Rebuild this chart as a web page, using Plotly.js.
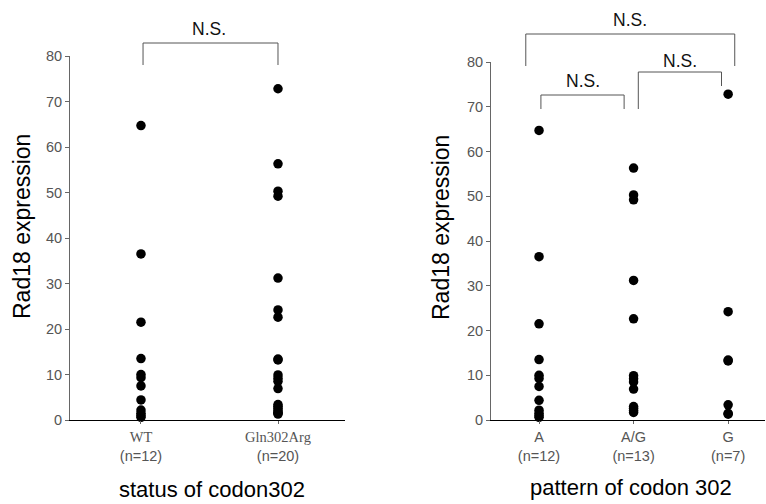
<!DOCTYPE html>
<html>
<head>
<meta charset="utf-8">
<script src="https://cdn.plot.ly/plotly-3.0.1.min.js"></script>
<style>html,body{margin:0;padding:0;background:#fff;}#chart{width:766px;height:504px;}</style>
</head>
<body>
<div id="chart"></div>
<script>
// ---- data ----
var leftCategories = ["WT", "Gln302Arg"];
var leftCounts = ["(n=12)", "(n=20)"];
var wtValues = [64.7, 36.5, 21.5, 13.5, 10.0, 9.3, 7.5, 4.4, 2.2, 1.5, 1.0, 0.6];
var glnValues = [72.8, 56.3, 50.3, 49.2, 31.2, 24.2, 22.6, 13.4, 13.2, 9.9, 9.2, 8.5, 6.9, 3.4, 3.0, 2.6, 2.1, 1.7, 1.5, 1.3];

var rightCategories = ["A", "A/G", "G"];
var rightCounts = ["(n=12)", "(n=13)", "(n=7)"];
var aValues = [64.7, 36.5, 21.5, 13.5, 10.0, 9.3, 7.5, 4.4, 2.2, 1.5, 1.0, 0.6];
var agValues = [56.3, 50.3, 49.2, 31.2, 22.6, 9.9, 9.2, 8.5, 6.9, 3.0, 2.6, 2.1, 1.7];
var gValues = [72.8, 24.2, 13.4, 13.2, 3.4, 1.5, 1.3];

var yTicks = [0, 10, 20, 30, 40, 50, 60, 70, 80];
var sigLabel = "N.S.";

// ---- layout geometry ----
var W = 766, H = 504;
var xDom1 = [70 / W, 345 / W], xRange1 = [-0.518, 1.489];
var xDom2 = [491 / W, 765 / W], xRange2 = [-0.508, 2.39];
var yDom1 = [1 - 420 / H, 1 - 56 / H];
var yDom2 = [1 - 420 / H, 1 - 62 / H];
var yRange = [0, 80];

function px(x, dom, rng) { return dom[0] + (x - rng[0]) / (rng[1] - rng[0]) * (dom[1] - dom[0]); }
function yPaper(pix) { return 1 - pix / H; }

function pts(vals, idx) { return vals.map(function () { return idx; }); }

var marker = { color: "#000", size: 9.5, line: { width: 0 } };
function tr(vals, idx, xa, ya) {
  return { type: "scatter", mode: "markers", x: pts(vals, idx), y: vals, xaxis: xa, yaxis: ya,
           marker: marker, hoverinfo: "y", showlegend: false, cliponaxis: false };
}

var traces = [
  tr(wtValues, 0, "x", "y"), tr(glnValues, 1, "x", "y"),
  tr(aValues, 0, "x2", "y2"), tr(agValues, 1, "x2", "y2"), tr(gValues, 2, "x2", "y2")
];

function tickText(cats, counts, serif) {
  return cats.map(function (c, i) {
    var first = serif ? "<span style=\"font-family:'Liberation Serif',serif\">" + c + "</span>" : c;
    return first + "<br>" + counts[i];
  });
}

var yAxisBase = {
  range: yRange, tickvals: yTicks, showgrid: false, zeroline: false,
  showline: true, linecolor: "#666", linewidth: 1, ticks: "outside", ticklen: 4, tickcolor: "#666",
  tickfont: { family: "Liberation Sans, Arial", size: 14.5, color: "#555" }, fixedrange: true
};
var xAxisBase = {
  showgrid: false, zeroline: false, showline: true, linecolor: "#000", linewidth: 1.3,
  ticks: "outside", ticklen: 3, tickcolor: "#666",
  tickfont: { family: "Liberation Sans, Arial", size: 14.5, color: "#555" }, fixedrange: true
};

var lineStyle = { color: "#555", width: 1 };
function bracket(x0, x1, topPix, leg0Pix, leg1Pix, dom, rng) {
  var a = px(x0, dom, rng), b = px(x1, dom, rng);
  return { type: "path", xref: "paper", yref: "paper", line: lineStyle,
    path: "M" + a + "," + yPaper(leg0Pix) + " L" + a + "," + yPaper(topPix) +
          " L" + b + "," + yPaper(topPix) + " L" + b + "," + yPaper(leg1Pix) };
}

var shapes = [
  bracket(0.015, 1.0, 43, 65, 65, xDom1, xRange1),
  bracket(-0.14, 2.07, 34, 66, 66, xDom2, xRange2),
  bracket(0.02, 0.9, 95, 109, 109, xDom2, xRange2),
  bracket(1.05, 1.93, 72, 109, 86, xDom2, xRange2)
];

function nsAnn(xp, yp) {
  return { text: sigLabel, xref: "paper", yref: "paper", x: xp, y: yPaper(yp), showarrow: false,
           xanchor: "center", yanchor: "middle", font: { family: "Liberation Sans, Arial", size: 17.5, color: "#111" } };
}
function titleAnn(text, xp, yp, angle, size) {
  return { text: text, xref: "paper", yref: "paper", x: xp / W, y: yPaper(yp), showarrow: false,
           xanchor: "center", yanchor: "middle", textangle: angle || 0,
           font: { family: "Liberation Sans, Arial", size: size || 23, color: "#000" } };
}

var annotations = [
  nsAnn(px(0.5, xDom1, xRange1), 29),
  nsAnn(px(0.965, xDom2, xRange2), 20),
  nsAnn(px(0.46, xDom2, xRange2), 81),
  nsAnn(px(1.49, xDom2, xRange2), 61),
  titleAnn("Rad18 expression", 22, 227, -90),
  titleAnn("Rad18 expression", 441, 228, -90),
  titleAnn("status of codon302", 212, 489, 0, 22),
  titleAnn("pattern of codon 302", 631, 487, 0, 22)
];

var layout = {
  width: W, height: H, margin: { l: 0, r: 0, t: 0, b: 0 },
  paper_bgcolor: "#fff", plot_bgcolor: "#fff", showlegend: false,
  xaxis: Object.assign({}, xAxisBase, { domain: xDom1, range: xRange1, tickvals: [0, 1],
          ticktext: tickText(leftCategories, leftCounts, true), anchor: "y" }),
  yaxis: Object.assign({}, yAxisBase, { domain: yDom1, anchor: "x" }),
  xaxis2: Object.assign({}, xAxisBase, { domain: xDom2, range: xRange2, tickvals: [0, 1, 2],
          ticktext: tickText(rightCategories, rightCounts, false), anchor: "y2" }),
  yaxis2: Object.assign({}, yAxisBase, { domain: yDom2, anchor: "x2" }),
  shapes: shapes, annotations: annotations
};

Plotly.newPlot("chart", traces, layout, { displayModeBar: false, staticPlot: true });
</script>
</body>
</html>
